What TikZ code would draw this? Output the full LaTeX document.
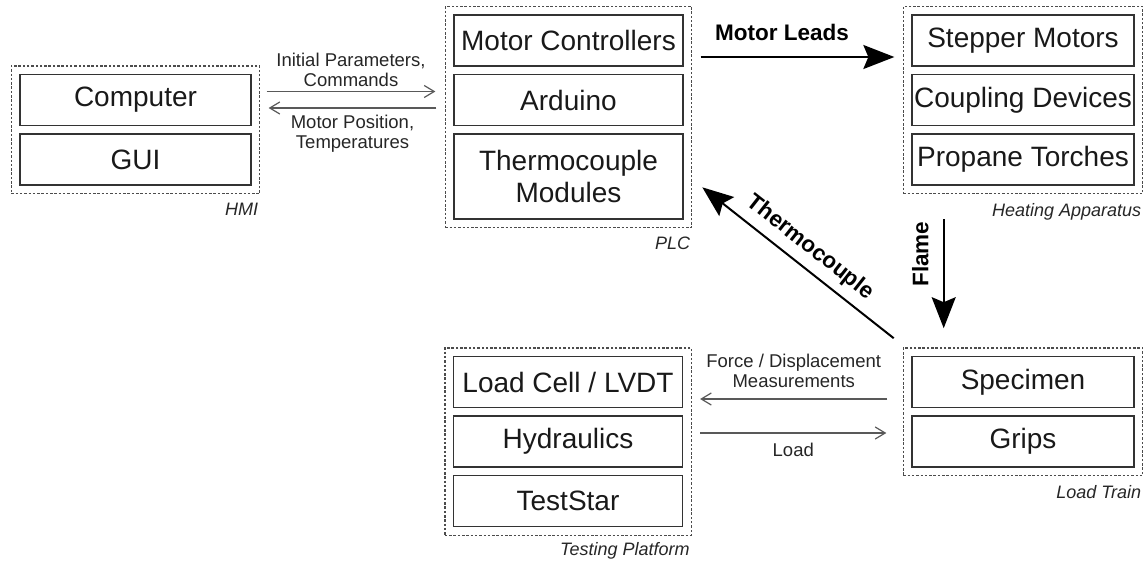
\documentclass[tikz,border=0pt]{standalone}
\usepackage{fontspec}
\setmainfont{Liberation Sans}
\usetikzlibrary{arrows.meta,calc,fit,positioning}

\tikzset{
  unit/.style={draw=black!80, line width=1.3pt, minimum width=229pt, minimum height=51pt,
    inner sep=0pt, align=center, font=\fontsize{28}{32}\selectfont, text=black!90},
  group/.style={draw=black!70, line width=1.3pt, dash pattern=on 2.5pt off 1.8pt, inner sep=8pt},
  grouplabel/.style={anchor=north east, inner sep=0pt, font=\fontsize{18}{20}\selectfont\itshape, text=black!85},
  signal/.style={draw=black!65, line width=1.2pt, -{Straight Barb[length=10pt,width=12pt]}},
  siglabel/.style={font=\fontsize{18.5}{20}\selectfont, text=black!85, align=center, inner sep=0pt},
  power/.style={draw=black, line width=2pt, -{Stealth[length=31pt,width=24pt,inset=5pt]}},
  powlabel/.style={font=\fontsize{22.5}{26}\selectfont\bfseries, text=black, inner sep=0pt},
}

\begin{document}
\begin{tikzpicture}[x=1pt,y=-1pt]
\useasboundingbox (0,0) rectangle (1144,560);

\node[unit, minimum width=231pt] (computer) at (135.5,100) {Computer};
\node[unit, minimum width=231pt] (gui) at (135.5,159.5) {GUI};

\node[unit] (motorctrl) at (568.5,40.5) {Motor Controllers};
\node[unit] (arduino) at (568.5,100) {Arduino};
\node[unit, minimum height=85pt] (tcmod) at (568.5,176.5) {Thermocouple\\Modules};

\node[unit, minimum width=222pt] (stepper) at (1023,40.5) {Stepper Motors};
\node[unit, minimum width=222pt] (coupling) at (1023,100) {Coupling Devices};
\node[unit, minimum width=222pt] (propane) at (1023,159.5) {Propane Torches};

\node[unit] (loadcell) at (568,382) {Load Cell / LVDT};
\node[unit] (hydraulics) at (568,441.5) {Hydraulics};
\node[unit] (teststar) at (568,501) {TestStar};

\node[unit, minimum width=222pt] (specimen) at (1023,382) {Specimen};
\node[unit, minimum width=222pt] (grips) at (1023,441.5) {Grips};

\node[group, fit=(computer)(gui)] (hmi) {};
\node[group, fit=(motorctrl)(tcmod)] (plc) {};
\node[group, fit=(stepper)(propane)] (heating) {};
\node[group, fit=(loadcell)(teststar)] (testing) {};
\node[group, fit=(specimen)(grips)] (loadtrain) {};

\node[grouplabel] (hmilbl) at ($(hmi.south east)+(-2,8.5)$) {HMI};
\node[grouplabel] (plclbl) at ($(plc.south east)+(-2,8.5)$) {PLC};
\node[grouplabel] (heatlbl) at ($(heating.south east)+(-2,8.5)$) {Heating Apparatus};
\node[grouplabel] (testlbl) at ($(testing.south east)+(-2,6.5)$) {Testing Platform};
\node[grouplabel] (loadlbl) at ($(loadtrain.south east)+(-2,8.5)$) {Load Train};

\draw[signal] ($(computer.east)+(15,-8.5)$) -- node[siglabel, above=4pt] {Initial Parameters,\\Commands} ($(arduino.west)+(-18,-8.5)$);
\draw[signal] ($(arduino.west)+(-17,8)$) -- node[siglabel, below=6pt] {Motor Position,\\Temperatures} ($(computer.east)+(17,8)$);

\draw[power] ($(motorctrl.east)+(17,16.5)$) -- node[powlabel, pos=0.42, above=15pt] {Motor Leads} ($(stepper.west)+(-17,16.5)$);
\draw[power] ($(heating.south west)+(41,25)$) -- node[powlabel, pos=0.32, rotate=90, anchor=south, outer sep=15pt] {Flame} ($(loadtrain.north west)+(41,-19)$);
\draw[power] ($(loadtrain.north west)+(-9,-9)$) -- node[powlabel, pos=0.5, sloped, above=8pt] {Thermocouple} ($(plc.south east)+(10,-41)$);

\draw[signal] ($(specimen.west)+(-24,17)$) -- node[siglabel, above=11pt] {Force / Displacement\\Measurements} ($(loadcell.east)+(17,17)$);
\draw[signal] ($(hydraulics.east)+(17,-8.5)$) -- node[siglabel, below=9pt] {Load} ($(grips.west)+(-25,-8.5)$);
\end{tikzpicture}
\end{document}
